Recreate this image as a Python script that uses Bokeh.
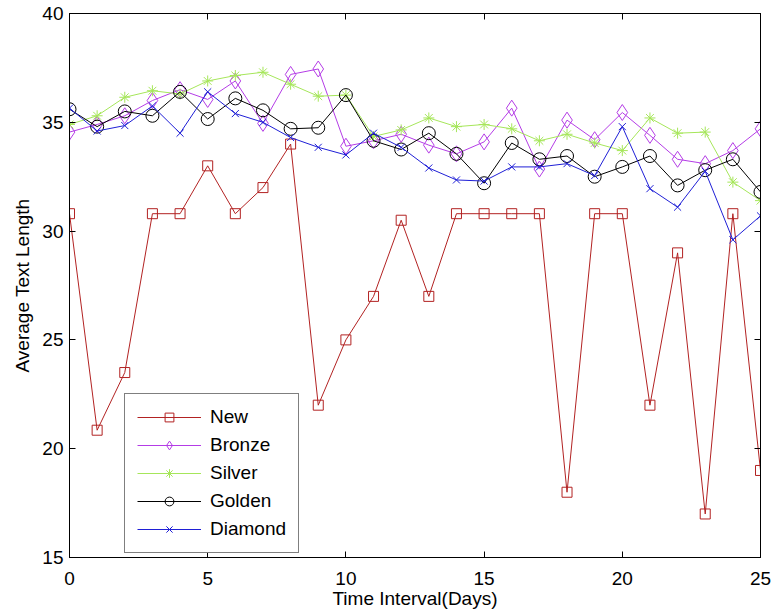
from bokeh.plotting import figure
from bokeh.models import LinearAxis, Legend, LegendItem, FixedTicker, Range1d
from bokeh.embed import file_html
from bokeh.resources import INLINE

days = list(range(26))
new = [30.8, 20.85, 23.5, 30.8, 30.8, 33.0, 30.8, 32.0, 34.0, 22.0, 25.0, 27.0, 30.5,
       27.0, 30.8, 30.8, 30.8, 30.8, 18.0, 30.8, 30.8, 22.0, 29.0, 17.0, 30.8, 19.0]
bronze = [34.55, 34.9, 35.3, 36.0, 36.5, 36.05, 36.9, 34.95, 37.2, 37.45, 33.9, 34.15, 34.45,
          33.95, 33.55, 34.1, 35.65, 32.85, 35.1, 34.2, 35.45, 34.4, 33.3, 33.1, 33.7, 34.7]
silver = [34.9, 35.3, 36.15, 36.45, 36.3, 36.9, 37.15, 37.3, 36.75, 36.2, 36.25, 34.35, 34.65,
          35.2, 34.8, 34.9, 34.7, 34.15, 34.45, 34.05, 33.7, 35.2, 34.5, 34.55, 32.25, 31.4]
golden = [35.6, 34.8, 35.5, 35.3, 36.4, 35.15, 36.1, 35.55, 34.7, 34.75, 36.25, 34.15, 33.75,
          34.5, 33.55, 32.2, 34.05, 33.3, 33.45, 32.5, 32.95, 33.45, 32.1, 32.8, 33.3, 31.8]
diamond = [35.65, 34.6, 34.85, 35.75, 34.5, 36.4, 35.4, 35.0, 34.3, 33.85, 33.5, 34.5, 33.85,
           32.9, 32.35, 32.3, 32.95, 32.95, 33.1, 32.55, 34.8, 31.95, 31.1, 32.75, 29.6, 30.7]

x_ticks = [0, 5, 10, 15, 20, 25]
y_ticks = [15, 20, 25, 30, 35, 40]

series = [
    ("New", new, "#b22222", "square", 10),
    ("Bronze", bronze, "#b43ce6", "diamond", 16),
    ("Silver", silver, "#a6e65a", "asterisk", 11),
    ("Golden", golden, "#000000", "circle", 13),
    ("Diamond", diamond, "#1f1fd6", "x", 10),
]

FONT = "Liberation Sans"
FS = "19px"

p = figure(width=772, height=615, output_backend="svg", toolbar_location=None,
           x_range=Range1d(0, 25), y_range=Range1d(15, 40),
           min_border_left=69, min_border_top=13, min_border_right=12, min_border_bottom=58)
p.xgrid.visible = False
p.ygrid.visible = False
p.outline_line_color = "black"
p.outline_line_width = 1
p.background_fill_color = "white"
p.border_fill_color = "white"

for ax, ticks in ((p.xaxis[0], x_ticks), (p.yaxis[0], y_ticks)):
    ax.ticker = FixedTicker(ticks=ticks)
    ax.major_tick_in = 6
    ax.major_tick_out = 0
    ax.minor_tick_in = 0
    ax.minor_tick_out = 0
    ax.axis_line_color = "black"
    ax.major_tick_line_color = "black"
    ax.major_label_text_font = FONT
    ax.major_label_text_font_size = FS
    ax.major_label_text_color = "black"
    ax.axis_label_text_font = FONT
    ax.axis_label_text_font_size = FS
    ax.axis_label_text_font_style = "normal"
    ax.axis_label_text_color = "black"

p.xaxis[0].axis_label = "Time Interval(Days)"
p.yaxis[0].axis_label = "Average Text Length"
p.xaxis[0].major_label_standoff = 14
p.xaxis[0].axis_label_standoff = 0
p.yaxis[0].major_label_standoff = 6
p.yaxis[0].axis_label_standoff = 6

for loc, ticks in (("above", x_ticks), ("right", y_ticks)):
    ax = LinearAxis(ticker=FixedTicker(ticks=ticks))
    ax.major_tick_in = 6
    ax.major_tick_out = 0
    ax.minor_tick_in = 0
    ax.minor_tick_out = 0
    ax.major_label_text_font_size = "0px"
    ax.major_label_standoff = 0
    ax.major_label_overrides = {t: "" for t in ticks}
    p.add_layout(ax, loc)

items = []
for name, vals, color, marker, size in series:
    r1 = p.line(days, vals, line_color=color, line_width=1)
    r2 = p.scatter(days, vals, marker=marker, size=size, line_color=color,
                   fill_color=None, line_width=1)
    items.append(LegendItem(label=name, renderers=[r1, r2]))

legend = Legend(items=items, location=(55, 4), glyph_width=64, glyph_height=22,
                label_text_font=FONT, label_text_font_size=FS, label_text_color="black",
                label_standoff=9, padding=12, spacing=6, border_line_color="black",
                border_line_width=1, background_fill_alpha=1.0, margin=0)
p.add_layout(legend, "center")

open("out.html", "w").write(file_html(p, INLINE))
